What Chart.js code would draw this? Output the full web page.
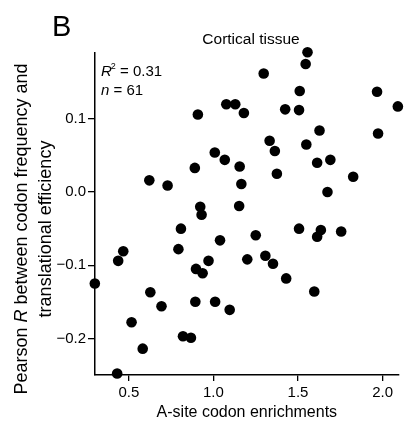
<!DOCTYPE html>
<html><head><meta charset="utf-8">
<script src="https://cdn.jsdelivr.net/npm/chart.js@4/dist/chart.umd.min.js"></script>
<style>html,body{margin:0;padding:0;background:#fff}#wrap{width:404px;height:424px}</style>
</head><body><div id="wrap"><canvas id="c" width="404" height="424"></canvas></div>
<script>
// A-site codon enrichment (x) vs Pearson R (y), 61 codons
const xValues = [0.621,0.729,0.808,0.793,0.467,0.437,0.299,0.627,0.693,0.516,0.820,0.867,0.582,0.431,
  0.922,0.930,1.152,1.039,0.971,0.897,0.936,1.200,0.893,1.010,1.096,0.908,1.076,1.129,1.180,1.424,
  1.332,1.363,1.008,1.067,1.155,0.890,1.375,1.165,1.250,1.307,1.352,1.430,1.556,1.545,1.510,1.967,
  2.090,1.506,1.627,1.973,1.549,1.613,1.691,1.826,1.674,1.506,1.635,1.613,1.755,1.297,1.596];
const yValues = [0.016,0.009,-0.050,-0.078,-0.081,-0.094,-0.125,-0.137,-0.156,-0.178,-0.197,-0.199,-0.214,-0.248,
  -0.020,-0.031,-0.019,-0.066,-0.094,-0.105,-0.111,-0.092,-0.150,-0.150,-0.161,0.106,0.120,0.120,0.108,0.113,
  0.070,0.056,0.054,0.044,0.035,0.033,0.025,0.011,-0.059,-0.087,-0.098,-0.118,0.191,0.175,0.138,0.137,
  0.117,0.112,0.084,0.080,0.065,0.040,0.044,0.021,0.000,-0.050,-0.052,-0.061,-0.054,0.162,-0.136];
const xTicks = [0.5, 1.0, 1.5, 2.0];
const yTicks = [-0.2, -0.1, 0.0, 0.1];
const panelLabel = 'B';
const chartTitle = 'Cortical tissue';
const xTitle = 'A-site codon enrichments';
const yTitleLine1 = [{t:'Pearson '},{t:'R',i:true},{t:' between codon frequency and'}];
const yTitleLine2 = [{t:'translational efficiency'}];
const statR2 = '0.31';
const statN = '61';

const FF = '"Liberation Sans", Arial, Helvetica, sans-serif';
const fmt = v => (Math.abs(v) < 1e-9 ? '0.0' : v.toFixed(1).replace('-', '\u2212'));

function richWidth(ctx, segs, size) {
  let w = 0;
  segs.forEach(s => { ctx.font = (s.i ? 'italic ' : '') + size + 'px ' + FF; w += ctx.measureText(s.t).width; });
  return w;
}
function drawRich(ctx, segs, x, y, size, align) {
  let w = richWidth(ctx, segs, size);
  let cx = align === 'center' ? x - w / 2 : x;
  ctx.textAlign = 'left';
  segs.forEach(s => {
    ctx.font = (s.i ? 'italic ' : '') + size + 'px ' + FF;
    ctx.fillText(s.t, cx, y);
    cx += ctx.measureText(s.t).width;
  });
}

const textPlugin = {
  id: 'texts',
  afterDraw(chart) {
    const ctx = chart.ctx, ca = chart.chartArea;
    ctx.save();
    ctx.fillStyle = '#000';
    ctx.textBaseline = 'alphabetic';
    // panel label
    ctx.font = '29px ' + FF; ctx.textAlign = 'left';
    ctx.fillText(panelLabel, 52, 36);
    // title
    ctx.font = '15.5px ' + FF; ctx.textAlign = 'center';
    ctx.fillText(chartTitle, 251, 44);
    // x title
    ctx.font = '16px ' + FF; ctx.textAlign = 'center';
    ctx.fillText(xTitle, (ca.left + ca.right) / 2, 417);
    // stats
    let x0 = 101;
    ctx.textAlign = 'left';
    ctx.font = 'italic 15px ' + FF; ctx.fillText('R', x0, 76);
    let w = ctx.measureText('R').width;
    ctx.font = '9px ' + FF; ctx.fillText('2', x0 + w - 1, 69);
    let w2 = ctx.measureText('2').width;
    ctx.font = '15px ' + FF; ctx.fillText(' = ' + statR2, x0 + w - 1 + w2, 76);
    ctx.font = 'italic 15px ' + FF; ctx.fillText('n', x0, 95);
    let wn = ctx.measureText('n').width;
    ctx.font = '15px ' + FF; ctx.fillText(' = ' + statN, x0 + wn, 95);
    // y title
    ctx.translate(0, 229);
    ctx.rotate(-Math.PI / 2);
    drawRich(ctx, yTitleLine1, 0, 27, 18, 'center');
    drawRich(ctx, yTitleLine2, 0, 51, 18, 'center');
    ctx.restore();
  }
};

new Chart(document.getElementById('c'), {
  type: 'scatter',
  data: {
    datasets: [{
      data: xValues.map((x, i) => ({ x: x, y: yValues[i] })),
      pointRadius: 5.3,
      pointHoverRadius: 5.3,
      backgroundColor: '#000',
      borderColor: '#000',
      borderWidth: 0,
      clip: false
    }]
  },
  options: {
    responsive: false,
    devicePixelRatio: 1,
    animation: false,
    layout: { padding: { top: 53, right: 2, left: 0, bottom: 0 } },
    plugins: { legend: { display: false }, tooltip: { enabled: false }, title: { display: false } },
    scales: {
      x: {
        type: 'linear', min: 0.3, max: 2.095,
        afterFit: s => { s.height = 49; },
        afterBuildTicks: s => { s.ticks = xTicks.map(v => ({ value: v })); },
        grid: { drawOnChartArea: false, drawTicks: true, tickLength: 6, color: '#000', lineWidth: 1.3 },
        border: { display: true, color: '#000', width: 1.5 },
        ticks: { color: '#000', padding: 3, maxRotation: 0, font: { family: FF, size: 15 }, callback: v => fmt(v) }
      },
      y: {
        type: 'linear', min: -0.25, max: 0.19,
        afterFit: s => { s.width = 95; },
        afterBuildTicks: s => { s.ticks = yTicks.map(v => ({ value: v })); },
        grid: { drawOnChartArea: false, drawTicks: true, tickLength: 7, color: '#000', lineWidth: 1.3 },
        border: { display: true, color: '#000', width: 1.5 },
        ticks: { color: '#000', padding: 2, font: { family: FF, size: 15 }, callback: v => fmt(v) }
      }
    }
  },
  plugins: [textPlugin]
});
</script></body></html>
